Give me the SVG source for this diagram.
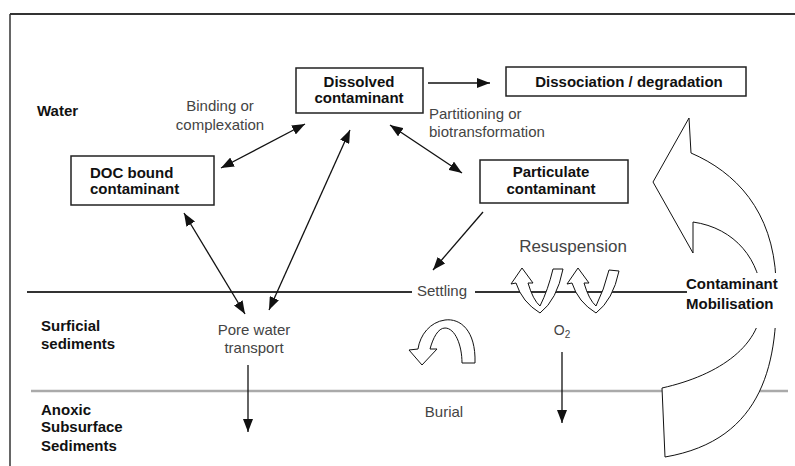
<svg xmlns="http://www.w3.org/2000/svg" width="795" height="466" viewBox="0 0 795 466">
<style>
.b{font-family:"Liberation Sans",Arial,sans-serif;font-weight:bold;font-size:15px;fill:#111}
.r{font-family:"Liberation Sans",Arial,sans-serif;font-size:15px;fill:#444}
.box{fill:#fff;stroke:#222;stroke-width:1.5}
.con{stroke:#111;stroke-width:1.3;fill:none}
.blk{fill:#fff;stroke:#111;stroke-width:1;stroke-linejoin:round}
</style>
<defs>
<marker id="ah" viewBox="0 0 13 10" refX="13" refY="5" markerWidth="13" markerHeight="10" markerUnits="userSpaceOnUse" orient="auto-start-reverse">
<path d="M0,0 L13,5 L0,10 Z" fill="#111"/>
</marker>
</defs>
<rect x="0" y="0" width="795" height="466" fill="#fff"/>
<g id="frame">
<line x1="10" y1="14" x2="795" y2="14" stroke="#333" stroke-width="2"/>
<line x1="10" y1="14" x2="10" y2="466" stroke="#333" stroke-width="1.5"/>
<line x1="27" y1="292" x2="412" y2="292" stroke="#333" stroke-width="2"/>
<line x1="475" y1="292" x2="687" y2="292" stroke="#333" stroke-width="2"/>
<line x1="31" y1="391" x2="788" y2="391" stroke="#aaa" stroke-width="2.5"/>
</g>
<g id="zones">
<text class="b" x="37" y="116">Water</text>
<text class="b" x="41" y="331">Surficial</text>
<text class="b" x="41" y="349">sediments</text>
<text class="b" x="41" y="415">Anoxic</text>
<text class="b" x="41" y="432">Subsurface</text>
<text class="b" x="41" y="451">Sediments</text>
</g>
<g id="dissolved">
<rect class="box" x="296" y="68" width="127" height="45"/>
<text class="b" x="359" y="87" text-anchor="middle">Dissolved</text>
<text class="b" x="359" y="103" text-anchor="middle">contaminant</text>
</g>
<g id="dissociation">
<rect class="box" x="506" y="67" width="240" height="29"/>
<text class="b" x="629" y="87" text-anchor="middle">Dissociation / degradation</text>
</g>
<g id="doc">
<rect class="box" x="71" y="156" width="143" height="49"/>
<text class="b" x="90" y="178">DOC bound</text>
<text class="b" x="90" y="194">contaminant</text>
</g>
<g id="particulate">
<rect class="box" x="480" y="160" width="148" height="43"/>
<text class="b" x="551" y="177" text-anchor="middle">Particulate</text>
<text class="b" x="551" y="194" text-anchor="middle">contaminant</text>
</g>
<g id="mobilisation">
<path class="blk" d="M689,118 L691,153 C735,172 773,210 776,280 C779,360 765,440 665,457 L662,388 C720,375 763,345 762,300 C761,260 735,228 693,222 L693,253 L653,182 Z"/>
<rect x="745" y="273" width="40" height="55" fill="#fff"/>
<text class="b" x="686" y="289">Contaminant</text>
<text class="b" x="686" y="309">Mobilisation</text>
</g>
<g id="resuspension">
<path class="blk" d="M522,268 L533,283 L528,283 Q533,300 540,306 Q548,290 553,269 L563,269 Q557,300 540,313 Q522,302 516,283 L511,284 Z"/>
<path class="blk" d="M578,268 L589,283 L584,283 Q589,300 596,306 Q604,290 609,270 L619,271 Q613,300 596,313 Q578,302 572,283 L567,284 Z"/>
<text class="r" x="573" y="252" text-anchor="middle" style="font-size:17px">Resuspension</text>
</g>
<g id="settling-loop">
<path class="blk" d="M475,363 C476,330 460,318 445,320 C430,322 420,335 418,349 L409,350 L422,365 L437,349 L430,349 C433,338 438,328 445,328 C455,328 462,345 462,363 Z"/>
</g>
<g id="connectors">
<line class="con" x1="428" y1="83" x2="490" y2="83" marker-end="url(#ah)"/>
<line class="con" x1="221" y1="168" x2="305" y2="124" marker-start="url(#ah)" marker-end="url(#ah)"/>
<line class="con" x1="350" y1="130" x2="269" y2="310" marker-start="url(#ah)" marker-end="url(#ah)"/>
<line class="con" x1="184" y1="213" x2="245" y2="314" marker-start="url(#ah)" marker-end="url(#ah)"/>
<line class="con" x1="390" y1="125" x2="462" y2="173" marker-start="url(#ah)" marker-end="url(#ah)"/>
<line class="con" x1="483" y1="212" x2="433" y2="270" marker-end="url(#ah)"/>
<line class="con" x1="248" y1="365" x2="248" y2="432" marker-end="url(#ah)"/>
<line class="con" x1="562" y1="352" x2="562" y2="423" marker-end="url(#ah)"/>
</g>
<g id="labels">
<text class="r" x="220" y="111" text-anchor="middle">Binding or</text>
<text class="r" x="220" y="130" text-anchor="middle">complexation</text>
<text class="r" x="429" y="119">Partitioning or</text>
<text class="r" x="429" y="137">biotransformation</text>
<text class="r" x="442" y="296" text-anchor="middle">Settling</text>
<text class="r" x="254" y="335" text-anchor="middle">Pore water</text>
<text class="r" x="254" y="353" text-anchor="middle">transport</text>
<text class="r" x="444" y="417" text-anchor="middle">Burial</text>
<text class="r" x="562" y="335" text-anchor="middle" style="font-size:14px">O<tspan style="font-size:10px" dy="3">2</tspan></text>
</g>
</svg>
